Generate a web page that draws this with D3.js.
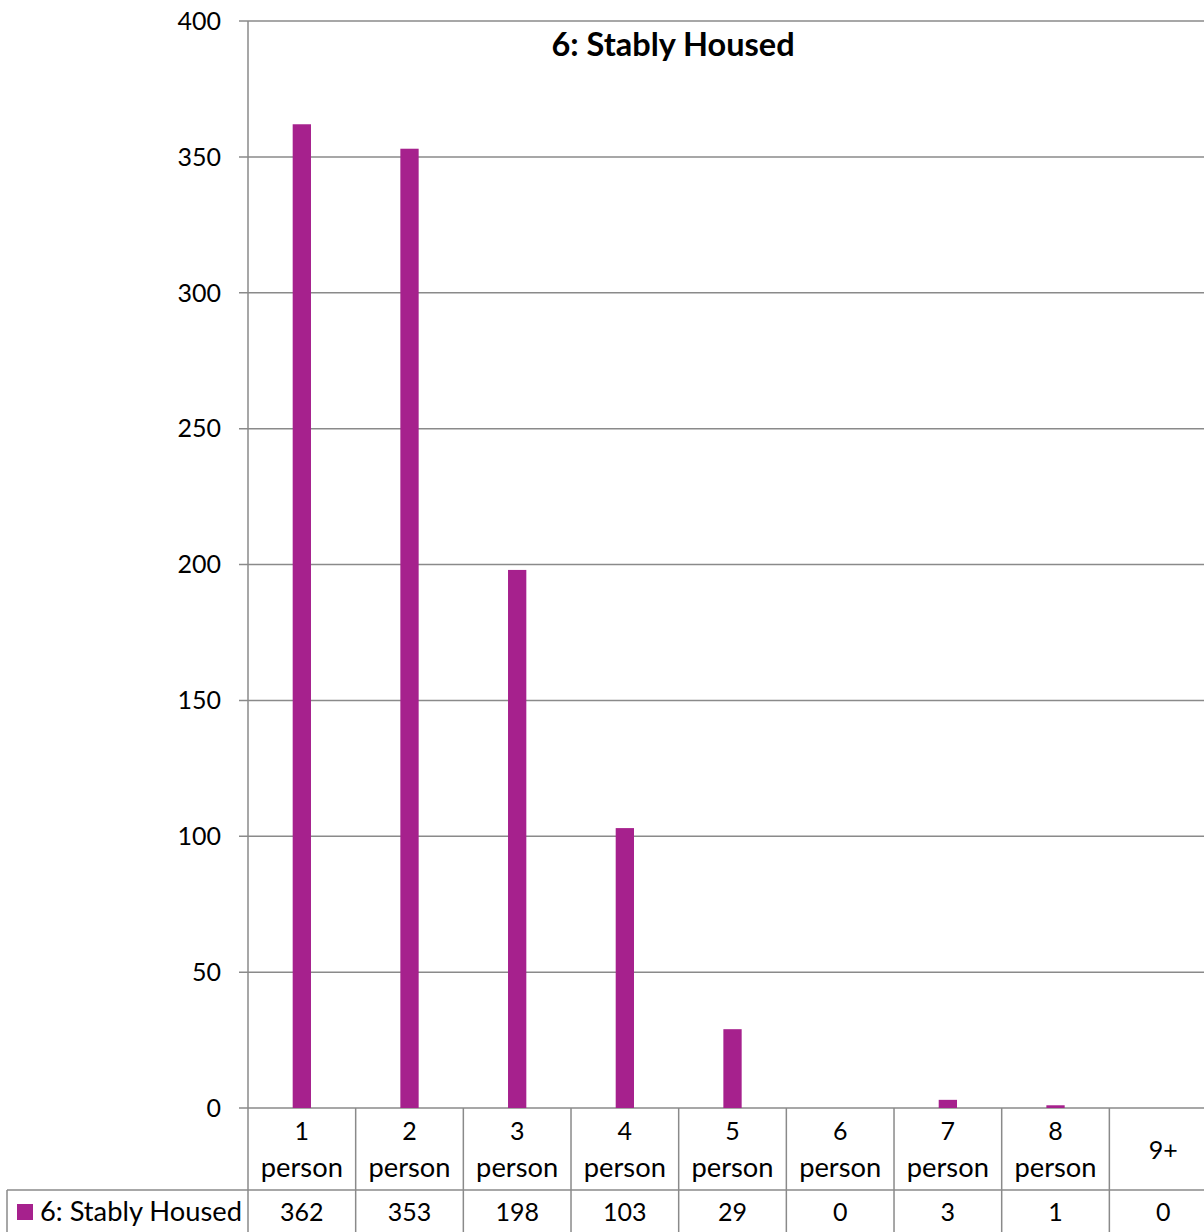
<!DOCTYPE html>
<html><head><meta charset="utf-8">
<script src="https://cdn.jsdelivr.net/npm/d3@7"></script>
<style>
html,body{margin:0;padding:0;background:#fff;overflow:hidden;}
text{font-family:Lato,"Open Sans",sans-serif;fill:#000;}
</style></head>
<body>
<svg id="chart" width="1204" height="1232"></svg>
<script>
const categories = ["1 person","2 person","3 person","4 person","5 person","6 person","7 person","8 person","9+"];
const seriesName = "6: Stably Housed";
const values = [362,353,198,103,29,0,3,1,0];
const yTicks = [0,50,100,150,200,250,300,350,400];
const title = "6: Stably Housed";
const barColor = "#A6218D";

(function(){
const svg = d3.select("#chart");
const plotLeft = 248, plotTop = 21, plotBottom = 1108, catW = 107.67;
const x = d3.scaleBand().domain(categories).range([plotLeft, plotLeft + catW*categories.length]).padding(0);
const y = d3.scaleLinear().domain([0,400]).range([plotBottom, plotTop]);
const gridColor = "#8a8a8a";
const fs = 25, fsWord = 27.3;

svg.append("g").selectAll("line").data(yTicks).join("line")
  .attr("x1", 239).attr("x2", 1230)
  .attr("y1", d=>y(d)).attr("y2", d=>y(d))
  .attr("stroke", gridColor).attr("stroke-width", 1.5);

svg.append("g").selectAll("text").data(yTicks).join("text")
  .attr("x", 221).attr("y", d=>y(d)).attr("dy","0.35em")
  .attr("text-anchor","end").attr("font-size", fs).text(d=>d);

const bw = 18.3;
svg.append("g").selectAll("rect").data(values).join("rect")
  .attr("x", (d,i)=>x(categories[i]) + x.bandwidth()/2 - bw/2)
  .attr("width", bw)
  .attr("y", d=>y(d)).attr("height", d=>y(0)-y(d))
  .attr("fill", barColor);

svg.append("line").attr("x1",plotLeft).attr("x2",plotLeft).attr("y1",plotTop).attr("y2",1232)
  .attr("stroke",gridColor).attr("stroke-width",1.5);

svg.append("g").selectAll("line").data(categories).join("line")
  .attr("x1", d=>x(d)+x.bandwidth()).attr("x2", d=>x(d)+x.bandwidth())
  .attr("y1", plotBottom).attr("y2", 1232)
  .attr("stroke",gridColor).attr("stroke-width",1.5);

svg.append("line").attr("x1",7).attr("x2",1230).attr("y1",1190).attr("y2",1190)
  .attr("stroke",gridColor).attr("stroke-width",1.5);
svg.append("line").attr("x1",7).attr("x2",7).attr("y1",1190).attr("y2",1232)
  .attr("stroke",gridColor).attr("stroke-width",1.5);

const catG = svg.append("g").selectAll("text").data(categories).join("text")
  .attr("text-anchor","middle").attr("font-size", fs)
  .attr("x", d=>x(d)+x.bandwidth()/2);
catG.each(function(d){
  const parts = d.split(" ");
  const t = d3.select(this);
  if (parts.length === 1) {
    t.append("tspan").attr("x", x(d)+x.bandwidth()/2).attr("y", 1159).text(parts[0]);
  } else {
    parts.forEach((p,i)=>{
      t.append("tspan").attr("x", x(d)+x.bandwidth()/2).attr("y", 1140 + i*37)
        .attr("font-size", i === 0 ? fs : fsWord).text(p);
    });
  }
});

svg.append("g").selectAll("text").data(values).join("text")
  .attr("text-anchor","middle").attr("font-size", fs)
  .attr("x", (d,i)=>x(categories[i])+x.bandwidth()/2)
  .attr("y", 1221).text(d=>d);

svg.append("rect").attr("x",17).attr("y",1204).attr("width",16).attr("height",16).attr("fill",barColor);
svg.append("text").attr("x",40).attr("y",1221).attr("font-size",fsWord).text(seriesName);

svg.append("text").attr("x",673).attr("y",56).attr("text-anchor","middle")
  .attr("font-size",32.5).attr("font-weight","bold").text(title);
})();
</script>
</body></html>
